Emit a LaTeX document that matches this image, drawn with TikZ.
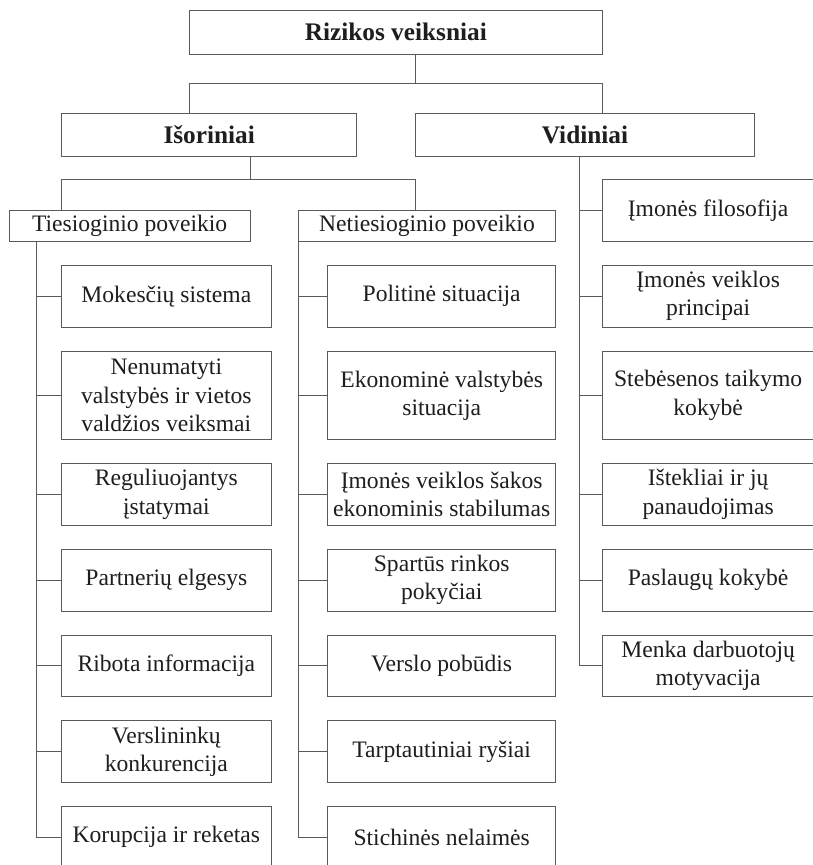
\documentclass[tikz,border=0pt]{standalone}
\usepackage{fontspec}
\setmainfont{Liberation Serif}
\definecolor{framec}{HTML}{5A5A5A}
\definecolor{inkc}{HTML}{1E1E1E}
\tikzset{
  box/.style={draw=framec, line width=0.8pt, inner sep=0pt, align=center,
    text=inkc, font=\fontsize{23.6}{28.3}\selectfont},
  headbox/.style={box, font=\fontsize{25.3}{30}\selectfont\bfseries},
  link/.style={draw=framec, line width=0.8pt},
  lcol/.style={box, minimum width=209.3pt},
  mcol/.style={box, minimum width=228pt},
  rcol/.style={box, minimum width=211.7pt}
}
\begin{document}
\begin{tikzpicture}[x=1pt,y=-1pt]
\clip (0,0) rectangle (813,865);
\fill[white] (0,0) rectangle (813,865);

% top levels
\node[headbox, minimum width=413pt, minimum height=44.3pt] (top) at (395.8,32.15) {Rizikos veiksniai};
\node[headbox, minimum width=295pt, minimum height=43pt] (isor) at (209.2,134.5) {Išoriniai};
\node[headbox, minimum width=338.6pt, minimum height=43pt] (vid) at (585,134.5) {Vidiniai};
\node[box, minimum width=241.3pt, minimum height=31.4pt] (ties) at (129.65,226) {Tiesioginio poveikio};
\node[box, minimum width=257.4pt, minimum height=31.4pt] (neties) at (427,226) {Netiesioginio poveikio};

% direct factors
\node[lcol, minimum height=62.3pt] (a1) at (166.35,296.15) {Mokesčių sistema};
\node[lcol, minimum height=88pt]   (a2) at (166.35,395.5) {Nenumatyti\\valstybės ir vietos\\valdžios veiksmai};
\node[lcol, minimum height=62pt]   (a3) at (166.35,494.3) {Reguliuojantys\\įstatymai};
\node[lcol, minimum height=62pt]   (a4) at (166.35,580) {Partnerių elgesys};
\node[lcol, minimum height=61.7pt] (a5) at (166.35,665.85) {Ribota informacija};
\node[lcol, minimum height=61.6pt] (a6) at (166.35,751.5) {Verslininkų\\konkurencija};
\node[lcol, minimum height=62pt]   (a7) at (166.35,837) {Korupcija ir reketas};

% indirect factors
\node[mcol, minimum height=62.3pt] (b1) at (441.7,296.15) {Politinė situacija};
\node[mcol, minimum height=88pt]   (b2) at (441.7,395.5) {Ekonominė valstybės\\situacija};
\node[mcol, minimum height=62pt]   (b3) at (441.7,494.3) {Įmonės veiklos šakos\\ekonominis stabilumas};
\node[mcol, minimum height=62pt]   (b4) at (441.7,580) {Spartūs rinkos\\pokyčiai};
\node[mcol, minimum height=61.7pt] (b5) at (441.7,665.85) {Verslo pobūdis};
\node[mcol, minimum height=61.6pt] (b6) at (441.7,751.5) {Tarptautiniai ryšiai};
\node[mcol, minimum height=62pt]   (b7) at (441.7,837) {Stichinės nelaimės};

% internal factors
\node[rcol, minimum height=62.4pt] (c0) at (708.15,210.5) {Įmonės filosofija};
\node[rcol, minimum height=62.3pt] (c1) at (708.15,296.15) {Įmonės veiklos\\principai};
\node[rcol, minimum height=88pt]   (c2) at (708.15,395.5) {Stebėsenos taikymo\\kokybė};
\node[rcol, minimum height=62pt]   (c3) at (708.15,494.3) {Ištekliai ir jų\\panaudojimas};
\node[rcol, minimum height=62pt]   (c4) at (708.15,580) {Paslaugų kokybė};
\node[rcol, minimum height=61.7pt] (c5) at (708.15,665.85) {Menka darbuotojų\\motyvacija};

% junction points of the tree
\coordinate (j1) at (415.7,83.3);
\coordinate (hl) at (189.3,83.3);
\coordinate (hr) at (602.3,83.3);
\coordinate (j2) at (250.7,179.5);
\coordinate (gl) at (61.7,179.5);
\coordinate (gr) at (415.3,179.5);
\coordinate (tsp) at (36,0);
\coordinate (vsp) at (579,0);

% connectors between levels
\draw[link] (top.south -| j1) -- (j1);
\draw[link] (hl |- isor.north) -- (hl) -- (hr) -- (hr |- vid.north);
\draw[link] (isor.south -| j2) -- (j2);
\draw[link] (gl |- ties.north) -- (gl) -- (gr) -- (gr |- neties.north);

% spine with branches: direct factors
\draw[link] (tsp |- ties.south) -- (tsp |- a7.west) -- (a7.west);
\foreach \n in {a1,a2,a3,a4,a5,a6}
  \draw[link] (tsp |- \n.west) -- (\n.west);

% spine with branches: indirect factors
\draw[link] (neties.south west) -- (neties.south west |- b7.west) -- (b7.west);
\foreach \n in {b1,b2,b3,b4,b5,b6}
  \draw[link] (neties.south west |- \n.west) -- (\n.west);

% spine with branches: internal factors
\draw[link] (vid.south -| vsp) -- (vsp |- c5.west) -- (c5.west);
\foreach \n in {c0,c1,c2,c3,c4}
  \draw[link] (vsp |- \n.west) -- (\n.west);
\end{tikzpicture}
\end{document}
